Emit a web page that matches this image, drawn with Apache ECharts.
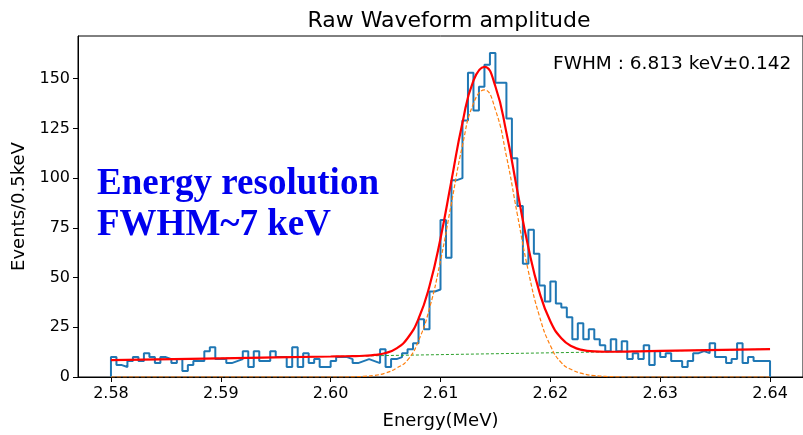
<!DOCTYPE html>
<html>
<head>
<meta charset="utf-8">
<script src="https://cdn.jsdelivr.net/npm/echarts@6/dist/echarts.min.js"></script>
<style>
  html, body { margin: 0; padding: 0; background: #fff; }
  #main { width: 803px; height: 435px; }
</style>
</head>
<body>
<div id="main"></div>
<script>
// histogram: 0.5 keV bins from 2.58 MeV
const binStart = 2.58
const binWidth = 0.0005
const counts = [
  10, 6, 5, 8, 10, 8, 12, 10, 7, 10, 9, 7, 9, 3, 6, 8, 8, 13, 15, 9,
  9, 7, 8, 9, 13, 5, 13, 8, 8, 13, 10, 10, 5, 15, 5, 12, 7, 9, 5, 5,
  8, 10, 10, 9, 7, 8, 9, 8, 7, 14, 5, 9, 10, 12, 14, 17, 29, 24, 43, 44,
  79, 60, 99, 100, 129, 153, 134, 146, 157, 163, 148, 148, 130, 110, 86, 57, 74, 62, 46, 38,
  48, 37, 35, 30, 19, 27, 19, 24, 19, 16, 13, 19, 13, 18, 9, 12, 9, 16, 6, 13,
  10, 12, 8, 8, 5, 8, 12, 13, 12, 17, 10, 10, 7, 9, 17, 7, 10, 8, 8, 8
]

// fit curves
const curveX = [2.58, 2.59, 2.600, 2.601, 2.602, 2.603, 2.604, 2.605, 2.606, 2.607, 2.608, 2.609,
  2.610, 2.611, 2.612, 2.613, 2.614, 2.615, 2.616, 2.617, 2.618, 2.619,
  2.620, 2.621, 2.622, 2.623, 2.624, 2.625, 2.626, 2.627, 2.628, 2.63, 2.64]
const fitY = [8.5, 9.4, 10.3, 10.4, 10.5, 10.7, 11.1, 12.1, 14.4, 19.5, 29.3, 45.8,
  69.7, 98.9, 127.9, 149.1, 156.0, 146.1, 122.9, 93.5, 65.1, 42.8,
  28.0, 19.5, 15.3, 13.5, 12.9, 12.7, 12.7, 12.8, 12.9, 13.1, 14.0]
const gaussY = [0, 0, 0, 0, 0.1, 0.3, 0.8, 2.0, 4.5, 8.5, 18.2, 34.6,
  58.5, 87.6, 116.5, 137.6, 144.4, 134.4, 111.1, 81.6, 53.1, 30.7,
  15.8, 7.2, 3.5, 1.6, 0.7, 0.3, 0.1, 0, 0, 0, 0]
const bgX = [2.58, 2.64]
const bgY = [8.5, 14.0]

const xTicks = [2.58, 2.59, 2.60, 2.61, 2.62, 2.63, 2.64]
const yTicks = [0, 25, 50, 75, 100, 125, 150]

var histData = [[binStart, 0]]
counts.forEach((c, i) => histData.push([binStart + i * binWidth, c]))
var histEnd = binStart + counts.length * binWidth
histData.push([histEnd, counts[counts.length - 1]])
histData.push([histEnd, 0])

const pairs = (xs, ys) => xs.map((x, i) => [x, ys[i]])

var chartDom = document.getElementById('main')
var myChart = echarts.init(chartDom)
var font = 'DejaVu Sans'

var option = {
  animation: false,
  backgroundColor: '#fff',
  title: {
    text: 'Raw Waveform amplitude',
    left: 444,
    top: 5,
    textAlign: 'center',
    textStyle: { fontFamily: font, fontSize: 22, fontWeight: 'normal', color: '#000' }
  },
  grid: {
    left: 78,
    top: 36,
    width: 732,
    height: 343,
    show: true,
    borderColor: '#000',
    borderWidth: 1,
    backgroundColor: 'transparent'
  },
  xAxis: {
    type: 'value',
    min: 2.577,
    max: 2.643,
    name: 'Energy(MeV)',
    nameLocation: 'middle',
    nameGap: 35,
    nameTextStyle: { fontFamily: font, fontSize: 18, color: '#000' },
    axisLine: { onZero: false, lineStyle: { color: '#000', width: 1 } },
    axisTick: { show: true, length: 5, customValues: xTicks, lineStyle: { color: '#000' } },
    axisLabel: {
      customValues: xTicks,
      margin: 9,
      fontFamily: font,
      fontSize: 16,
      color: '#000',
      formatter: v => v.toFixed(2)
    },
    splitLine: { show: false }
  },
  yAxis: {
    type: 'value',
    min: 0,
    max: 171.5,
    name: 'Events/0.5keV',
    nameLocation: 'middle',
    nameGap: 45,
    nameRotate: 90,
    nameTextStyle: { fontFamily: font, fontSize: 18, color: '#000' },
    axisLine: { show: true, lineStyle: { color: '#000', width: 1 } },
    axisTick: { show: true, length: 5, customValues: yTicks, lineStyle: { color: '#000' } },
    axisLabel: {
      customValues: yTicks,
      margin: 8,
      fontFamily: font,
      fontSize: 16,
      color: '#000'
    },
    splitLine: { show: false }
  },
  series: [
    {
      name: 'hist',
      type: 'line',
      step: 'end',
      data: histData,
      symbol: 'none',
      lineStyle: { color: '#1f77b4', width: 2 }
    },
    {
      name: 'bg',
      type: 'line',
      data: pairs(bgX, bgY),
      symbol: 'none',
      lineStyle: { color: '#2ca02c', width: 1, type: [3, 2] }
    },
    {
      name: 'gauss',
      type: 'line',
      data: pairs(curveX, gaussY),
      smooth: 0.5,
      symbol: 'none',
      lineStyle: { color: '#ff7f0e', width: 1.2, type: [4, 2] }
    },
    {
      name: 'fit',
      type: 'line',
      data: pairs(curveX, fitY),
      smooth: 0.5,
      symbol: 'none',
      lineStyle: { color: '#ff0000', width: 2.2 }
    }
  ],
  graphic: [
    {
      type: 'text',
      left: 553,
      top: 55,
      style: { text: 'FWHM : 6.813 keV±0.142', font: '18.5px "DejaVu Sans"', fill: '#000' }
    },
    {
      type: 'text',
      left: 97,
      top: 166,
      style: { text: 'Energy resolution', font: 'bold 37px "Liberation Serif"', fill: '#0000ee' }
    },
    {
      type: 'text',
      left: 97,
      top: 207,
      style: { text: 'FWHM~7 keV', font: 'bold 37px "Liberation Serif"', fill: '#0000ee' }
    }
  ]
}

option && myChart.setOption(option)
</script>
</body>
</html>
